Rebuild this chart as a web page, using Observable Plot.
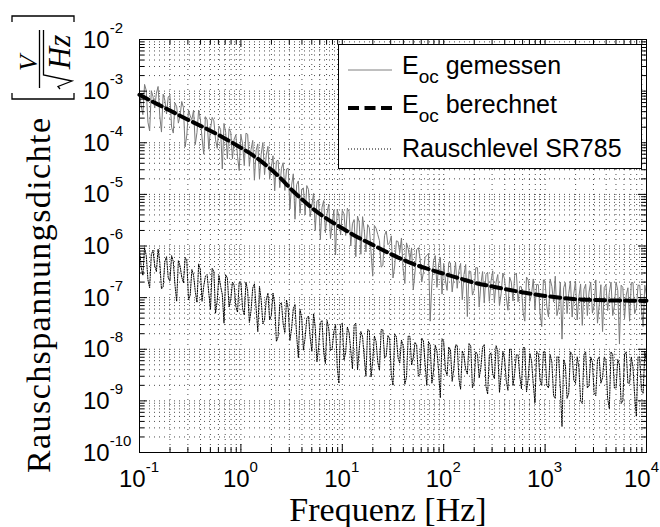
<!DOCTYPE html>
<html><head><meta charset="utf-8">
<script src="https://cdn.jsdelivr.net/npm/d3@7"></script>
<script src="https://cdn.jsdelivr.net/npm/@observablehq/plot@0.6"></script>
<style>body{margin:0;background:#fff}svg{display:block}</style>
</head><body><div id="chart"></div>
<script>
// ---- data ----
// sweep points (two interleaved sets of frequencies)
const freqA = [0.1,0.108,0.1166,0.1259,0.1359,0.1468,0.1585,0.1711,0.1848,0.1995,0.2154,0.2326,0.2512,0.2712,0.2929,0.3162,0.3415,0.3687,0.3981,0.4299,0.4642,0.5012,0.5412,0.5843,0.631,0.6813,0.7356,0.7943,0.8577,0.9261,
1,1.08,1.166,1.259,1.359,1.468,1.585,1.711,1.848,1.995,2.154,2.326,2.512,2.712,2.929,3.162,3.415,3.687,3.981,4.299,4.642,5.012,5.412,5.843,6.31,6.813,7.356,7.943,8.577,9.261,
10,10.8,11.66,12.59,13.59,14.68,15.85,17.11,18.48,19.95,21.54,23.26,25.12,27.12,29.29,31.62,34.15,36.87,39.81,42.99,46.42,50.12,54.12,58.43,63.1,68.13,73.56,79.43,85.77,92.61,
100,108,116.6,125.9,135.9,146.8,158.5,171.1,184.8,199.5,215.4,232.6,251.2,271.2,292.9,316.2,341.5,368.7,398.1,429.9,464.2,501.2,541.2,584.3,631,681.3,735.6,794.3,857.7,926.1,
1000,1080,1166,1259,1359,1468,1585,1711,1848,1995,2154,2326,2512,2712,2929,3162,3415,3687,3981,4299,4642,5012,5412,5843,6310,6813,7356,7943,8577,9261,10000];
const freqB = [0.1039,0.1122,0.1212,0.1308,0.1413,0.1525,0.1647,0.1778,0.192,0.2073,0.2239,0.2417,0.261,0.2818,0.3043,0.3286,0.3548,0.3831,0.4137,0.4467,0.4823,0.5208,0.5623,0.6072,0.6556,0.7079,0.7644,0.8254,0.8913,0.9624,
1.039,1.122,1.212,1.308,1.413,1.525,1.647,1.778,1.92,2.073,2.239,2.417,2.61,2.818,3.043,3.286,3.548,3.831,4.137,4.467,4.823,5.208,5.623,6.072,6.556,7.079,7.644,8.254,8.913,9.624,
10.39,11.22,12.12,13.08,14.13,15.25,16.47,17.78,19.2,20.73,22.39,24.17,26.1,28.18,30.43,32.86,35.48,38.31,41.37,44.67,48.23,52.08,56.23,60.72,65.56,70.79,76.44,82.54,89.13,96.24,
103.9,112.2,121.2,130.8,141.3,152.5,164.7,177.8,192,207.3,223.9,241.7,261,281.8,304.3,328.6,354.8,383.1,413.7,446.7,482.3,520.8,562.3,607.2,655.6,707.9,764.4,825.4,891.3,962.4,
1039,1122,1212,1308,1413,1525,1647,1778,1920,2073,2239,2417,2610,2818,3043,3286,3548,3831,4137,4467,4823,5208,5623,6072,6556,7079,7644,8254,8913,9624];

// E_oc gemessen [V/sqrt(Hz)] at freqA and freqB
const measuredA = [9.5e-4,3.5e-4,1.03e-3,1.69e-4,7.8e-4,9.1e-4,3.3e-4,8.7e-4,3.6e-4,8.3e-4,1.54e-4,5.0e-4,3.3e-4,4.8e-4,1.41e-4,3.3e-4,4.3e-4,1.57e-4,2.9e-4,6.0e-5,2.8e-4,1.82e-4,2.66e-4,7.8e-5,1.81e-4,2.36e-4,4.9e-5,1.6e-4,1.17e-4,5.4e-5,
1.41e-4,3.6e-5,1.46e-4,7.4e-5,1.88e-5,9.5e-5,6.0e-5,2.4e-5,8.5e-5,3.4e-5,1.17e-5,4.6e-5,3.2e-5,1.19e-5,3.2e-5,1.51e-5,3.3e-6,1.82e-5,1.26e-5,4.0e-6,1.24e-5,6.2e-6,2.0e-6,7.9e-6,5.6e-6,1.81e-6,6.5e-6,2.6e-6,6.7e-7,3.8e-6,
4.9e-6,1.6e-6,4.6e-6,2.7e-6,6.2e-7,2.9e-6,3.7e-6,7.7e-7,2.25e-6,2.6e-7,2.2e-6,1.27e-6,4.2e-7,1.95e-6,1.15e-6,2.4e-7,1.26e-6,7.4e-7,3.5e-7,1.15e-6,5.4e-7,1.41e-7,8.5e-7,5.8e-7,3.1e-7,6.6e-7,3.5e-8,5.2e-7,1.58e-7,6.0e-7,
4.6e-7,1.38e-7,4.7e-7,2.5e-7,1.52e-7,4.6e-7,2.8e-7,4.3e-8,3.2e-7,1.38e-7,3.8e-7,1.83e-7,7.9e-8,3.1e-7,2.1e-7,8.1e-8,2.8e-7,1.21e-7,2.3e-7,5.7e-8,2.0e-7,2.7e-7,8.3e-8,1.62e-7,3.5e-8,2.2e-7,1.18e-7,5.8e-8,1.78e-7,2.75e-8,
2.1e-7,4.2e-8,1.65e-7,2.6e-7,6.4e-8,1.57e-8,1.95e-7,1.21e-7,4.2e-8,2.1e-7,1.04e-7,2.9e-8,1.82e-7,1.28e-7,5.0e-8,2.2e-7,7.1e-8,2.2e-8,1.78e-7,1.26e-7,4.5e-8,2.0e-7,1.26e-8,1.58e-7,1.12e-7,3.5e-8,1.95e-7,6.2e-8,1.74e-7,2.75e-8,1.1e-7];
const measuredB = [5.2e-4,1.35e-3,2.5e-4,1.02e-3,4.7e-4,1.23e-3,1.61e-4,6.7e-4,7.7e-4,2.0e-4,5.9e-4,2.4e-4,6.3e-4,8.3e-5,4.3e-4,2.8e-4,9.2e-5,4.3e-4,1.24e-4,3.2e-4,7.5e-5,3.1e-4,1.14e-4,2.1e-4,3.1e-5,1.6e-4,1.87e-4,4.9e-5,1.42e-4,2.9e-5,
9.5e-5,1.53e-4,3.5e-5,1.11e-4,7.1e-5,2.0e-5,1.01e-4,5.7e-5,2.0e-5,5.6e-5,4.4e-5,1.35e-5,4.1e-5,3.1e-5,5.2e-6,2.5e-5,1.55e-5,4.3e-6,1.33e-5,1.48e-5,3.7e-6,1.04e-5,7.4e-6,1.33e-6,7.6e-6,4.3e-6,1.39e-6,5.0e-6,5.1e-6,1.63e-6,
4.2e-6,5.4e-6,1.0e-6,3.25e-6,3.8e-6,6.9e-7,2.0e-6,2.6e-6,7.7e-7,2.5e-6,1.66e-6,3.9e-7,1.6e-6,1.06e-6,1.57e-6,4.1e-7,1.22e-6,1.43e-6,1.88e-7,8.8e-7,9.2e-7,3.1e-7,9.3e-7,2.0e-7,6.0e-7,7.2e-7,1.91e-7,6.5e-7,4.4e-7,1.17e-7,
2.2e-7,4.8e-7,1.29e-7,4.9e-7,3.35e-7,9.1e-8,4.4e-7,3.3e-7,1.12e-7,3.8e-7,6.6e-8,3.2e-7,2.8e-7,8.5e-8,3.3e-7,2.0e-7,6.9e-8,3.0e-7,1.03e-7,2.5e-7,8.6e-8,3.0e-7,1.64e-7,5.1e-8,2.5e-7,8.5e-8,2.3e-7,1.8e-7,5.0e-8,2.2e-7,
6.7e-8,2.3e-7,8.2e-8,4.5e-8,2.0e-7,1.56e-7,4.9e-8,2.1e-7,1.18e-7,3.7e-8,1.84e-7,1.45e-7,4.5e-8,2.0e-7,7.1e-8,3.2e-8,1.78e-7,1.57e-7,5.6e-8,2.0e-7,6.9e-8,1.38e-7,1.74e-7,3.9e-8,1.55e-7,1.95e-7,4.9e-8,1.74e-7,6.2e-8,1.74e-7];

// Rauschlevel SR785 [V/sqrt(Hz)] at freqA and freqB
const noiseA = [8.9e-7,2.7e-7,6.5e-7,1.55e-7,8.3e-7,3.2e-7,4.8e-7,1.62e-7,6.2e-7,2.1e-7,5.0e-7,8.5e-8,4.1e-7,1.95e-7,5.2e-7,1.12e-7,2.7e-7,8.1e-8,3.5e-7,1.66e-7,2.8e-7,6.0e-8,3.2e-7,8.7e-8,1.66e-7,3.2e-8,2.4e-7,9.1e-8,1.74e-7,5.2e-8,
2.0e-7,4.6e-8,1.36e-7,5.6e-8,1.85e-7,2.2e-8,9.0e-8,3.7e-8,1.22e-7,4.5e-8,7.4e-8,1.73e-8,8.0e-8,2.1e-8,6.1e-8,2.5e-8,7.4e-8,6.9e-9,4.0e-8,1.67e-8,4.4e-8,9.1e-9,2.65e-8,1.1e-8,3.6e-8,5.3e-9,2.5e-8,1.02e-8,3.0e-8,2.2e-9,
3.2e-8,8.7e-9,2.1e-8,4.2e-9,3.2e-8,1.0e-8,1.74e-8,3.0e-9,2.3e-8,5.8e-9,1.41e-8,3.9e-9,2.4e-8,7.4e-9,1.62e-8,2.0e-9,1.74e-8,5.4e-9,1.17e-8,2.9e-9,1.78e-8,6.9e-9,1.2e-8,3.3e-9,1.45e-8,2.0e-9,1.23e-8,3.8e-9,9.3e-9,1.15e-9,
1.41e-8,3.1e-9,9.8e-9,4.3e-9,1.2e-8,1.68e-9,7.4e-9,3.3e-9,1.15e-8,2.3e-9,7.9e-9,4.4e-9,1.23e-8,1.36e-9,8.5e-9,2.7e-9,9.3e-9,3.3e-9,6.5e-9,1.6e-9,1.0e-8,3.5e-9,7.8e-9,1.72e-9,1.07e-8,2.7e-9,5.9e-9,9.2e-10,8.1e-9,2.0e-9,
8.9e-9,1.78e-9,5.6e-9,1.12e-9,7.1e-9,3.2e-10,5.0e-9,1.41e-9,7.9e-9,2.2e-9,4.5e-9,8.9e-10,8.9e-9,2.0e-9,5.6e-9,1.26e-9,7.1e-9,2.8e-9,6.3e-9,7.1e-10,7.9e-9,1.78e-9,5.0e-9,1.0e-9,8.9e-9,2.2e-9,4.5e-9,5.0e-10,7.1e-9,1.41e-9,5.6e-9];
const noiseB = [3.9e-7,9.3e-7,2.2e-7,6.8e-7,4.1e-7,8.7e-7,1.48e-7,5.0e-7,2.4e-7,6.5e-7,1.74e-7,5.2e-7,2.5e-7,6.0e-7,9.1e-8,3.5e-7,1.32e-7,4.5e-7,8.5e-8,2.6e-7,1.23e-7,3.7e-7,5.0e-8,2.7e-7,1.15e-7,2.75e-7,6.6e-8,2.0e-7,6.8e-8,2.0e-7,
6.1e-8,2.0e-7,3.3e-8,1.53e-7,6.3e-8,1.65e-7,3.1e-8,9.0e-8,3.7e-8,1.22e-7,1.42e-8,7.4e-8,3.1e-8,9.0e-8,1.48e-8,6.1e-8,1.8e-8,5.9e-8,9.7e-9,4.0e-8,1.67e-8,4.9e-8,5.7e-9,3.3e-8,8.7e-9,3.6e-8,9.4e-9,2.2e-8,4.6e-9,3.0e-8,
6.2e-9,2.7e-8,9.4e-9,2.9e-8,4.0e-9,2.2e-8,6.8e-9,2.4e-8,2.9e-9,1.8e-8,5.6e-9,2.4e-8,6.7e-9,1.84e-8,3.2e-9,1.97e-8,6.8e-9,1.5e-8,2.1e-9,1.8e-8,5.0e-9,1.36e-8,3.0e-9,1.64e-8,5.1e-9,1.4e-8,2.2e-9,1.19e-8,3.7e-9,1.6e-8,
4.0e-9,1.1e-8,2.4e-9,1.2e-8,2.7e-9,9.3e-9,4.1e-9,1.29e-8,1.8e-9,8.9e-9,2.8e-9,1.1e-8,1.93e-9,7.6e-9,3.35e-9,1.17e-8,1.46e-9,9.1e-9,2.5e-9,1.0e-8,1.97e-9,7.8e-9,3.05e-9,1.07e-8,1.5e-9,8.3e-9,2.1e-9,9.1e-9,2.5e-9,8.9e-9,
2.0e-9,7.9e-9,1.26e-9,7.1e-9,1.78e-9,6.3e-9,1.12e-9,8.9e-9,2.5e-9,7.1e-9,1.0e-9,7.9e-9,1.78e-9,7.1e-9,1.41e-9,6.3e-9,2.2e-9,7.1e-9,1.12e-9,8.9e-9,1.78e-9,6.3e-9,8.9e-10,7.9e-9,2.2e-9,7.1e-9,1.26e-9,7.1e-9,1.58e-9,8.9e-9];

// E_oc berechnet
const calcFreq = [0.1,0.15,0.2,0.3,0.45,0.7,1,1.3,1.6,2,2.5,3.2,4,5,7,10,14,20,30,50,70,100,150,200,300,500,700,1000,1500,2000,3000,5000,10000];
const calcValue = [8.5e-4,5.6e-4,4.2e-4,2.8e-4,1.9e-4,1.2e-4,8.0e-5,5.8e-5,4.3e-5,3.0e-5,2.0e-5,1.2e-5,8.0e-6,5.5e-6,3.4e-6,2.2e-6,1.5e-6,1.05e-6,7.0e-7,4.5e-7,3.6e-7,2.9e-7,2.3e-7,1.95e-7,1.65e-7,1.35e-7,1.2e-7,1.08e-7,9.8e-8,9.3e-8,9.0e-8,8.8e-8,8.7e-8];

const xTickValues = [0.1,1,10,100,1000,10000];
const xTickExp = ["-1","0","1","2","3","4"];
const yTickValues = [1e-10,1e-9,1e-8,1e-7,1e-6,1e-5,1e-4,1e-3,1e-2];
const yTickExp = ["-10","-9","-8","-7","-6","-5","-4","-3","-2"];
const tickBase = "10";
const legendMain = "E";
const legendSub = "oc";
const legendLabels = ["gemessen","berechnet","Rauschlevel SR785"];
const xTitle = "Frequenz [Hz]";
const yTitle = "Rauschspannungsdichte";
const yUnitNum = "V";
const yUnitDen = "Hz";

// ---- build ----
const byF = (a,b)=>a.f-b.f;
const meas = freqA.map((f,i)=>({f, v: measuredA[i]})).concat(freqB.map((f,i)=>({f, v: measuredB[i]}))).sort(byF);
const noise = freqA.map((f,i)=>({f, v: noiseA[i]})).concat(freqB.map((f,i)=>({f, v: noiseB[i]}))).sort(byF);
const calc = calcFreq.map((f,i)=>({f, v: calcValue[i]}));

const W=660, H=527, mL=139, mR=14, mT=39, mB=75;
const plotW = W-mL-mR, plotH = H-mT-mB;

function minorOf(majors){
  const out=[];
  for (let i=0;i<majors.length-1;i++) for (let m=2;m<=9;m++) out.push(+(majors[i]*m).toPrecision(3));
  return out;
}
const xMinor = minorOf(xTickValues);
const yMinor = minorOf(yTickValues);
const gridStyle = {stroke:"#000", strokeOpacity:0.7, strokeWidth:1, strokeDasharray:"1,4"};

const plot = Plot.plot({
  width: W, height: H,
  marginLeft: mL, marginRight: mR, marginTop: mT, marginBottom: mB,
  x: {type:"log", domain:[0.1,1e4], axis:null},
  y: {type:"log", domain:[1e-10,1e-2], axis:null},
  marks: [
    Plot.ruleX(xMinor.concat(xTickValues), gridStyle),
    Plot.ruleY(yMinor.concat(yTickValues), gridStyle),
    Plot.line(noise, {x:"f", y:"v", stroke:"#000", strokeWidth:1, strokeDasharray:"1.2,1.3"}),
    Plot.line(meas, {x:"f", y:"v", stroke:"#7a7a7a", strokeWidth:1}),
    Plot.line(calc, {x:"f", y:"v", stroke:"#000", strokeWidth:4, strokeDasharray:"10,5", curve:"monotone-x"}),
    Plot.ruleX(xMinor, {stroke:"#000", insetTop: plotH-5}),
    Plot.ruleX(xMinor, {stroke:"#000", insetBottom: plotH-5}),
    Plot.ruleX(xTickValues, {stroke:"#000", insetTop: plotH-8}),
    Plot.ruleX(xTickValues, {stroke:"#000", insetBottom: plotH-8}),
    Plot.ruleY(yMinor, {stroke:"#000", insetRight: plotW-5}),
    Plot.ruleY(yMinor, {stroke:"#000", insetLeft: plotW-5}),
    Plot.ruleY(yTickValues, {stroke:"#000", insetRight: plotW-8}),
    Plot.ruleY(yTickValues, {stroke:"#000", insetLeft: plotW-8}),
    Plot.frame({stroke:"#000", strokeWidth:1})
  ]
});
document.getElementById("chart").append(plot);

const sx = plot.scale("x"), sy = plot.scale("y");
const svg = d3.select(plot);
const sans = "'Liberation Sans', Arial, sans-serif";
const serif = "'Liberation Serif', 'Times New Roman', serif";

// tick labels
const xl = svg.append("g").style("font-family", sans).style("fill","#000");
xTickValues.forEach((v,i)=>{
  const last = i === xTickValues.length-1;
  const t = xl.append("text").attr("x", last ? W-1 : sx.apply(v)).attr("y", 487)
    .attr("text-anchor", last ? "end" : "middle").style("font-size","24px");
  t.append("tspan").text(tickBase);
  t.append("tspan").attr("dy",-15).style("font-size","15px").text(xTickExp[i]);
});
const yl = svg.append("g").style("font-family", sans).style("fill","#000");
yTickValues.forEach((v,i)=>{
  const t = yl.append("text").attr("x", 83).attr("y", sy.apply(v)+8.5)
    .attr("text-anchor","start").style("font-size","24px");
  t.append("tspan").text(tickBase);
  t.append("tspan").attr("dy",-15).style("font-size","15px").text(yTickExp[i]);
});

// x title
svg.append("text").attr("x",388).attr("y",521).attr("text-anchor","middle")
  .style("font-family",serif).style("font-size","34px").style("fill","#000").text(xTitle);

// y title (rotated), with [V / sqrt(Hz)]
const yt = svg.append("g").attr("transform","translate(50,473) rotate(-90)").style("fill","#000");
yt.append("text").attr("x",0).attr("y",0).attr("text-anchor","start")
  .attr("textLength",355).attr("lengthAdjust","spacing")
  .style("font-family",serif).style("font-size","34px").text(yTitle);
function ink(sel){ return sel.attr("fill","none").attr("stroke","#000").attr("stroke-width",1.3); }
ink(yt.append("path").attr("d","M380,-38H374V24H380"));
ink(yt.append("path").attr("d","M451,-38H457V24H451"));
ink(yt.append("path").attr("d","M385,-10.5H443"));
ink(yt.append("path").attr("d","M384,10L386.5,8L392,22L398,-6.5H443"));
yt.append("text").attr("x",410).attr("y",-13).attr("text-anchor","middle")
  .style("font-family",serif).style("font-style","italic").style("font-size","26px").text(yUnitNum);
yt.append("text").attr("x",421).attr("y",20).attr("text-anchor","middle")
  .style("font-family",serif).style("font-style","italic").style("font-size","31px").text(yUnitDen);

// legend
const lg = svg.append("g");
lg.append("rect").attr("x",338.5).attr("y",44.5).attr("width",303).attr("height",124)
  .attr("fill","#fff").attr("stroke","#000").attr("stroke-width",1);
const rows = [
  {ly:70, by:74, stroke:"#808080", sw:1, dash:null, sub:true},
  {ly:108, by:113, stroke:"#000", sw:4, dash:"11,5.5", sub:true},
  {ly:149, by:157, stroke:"#000", sw:1, dash:"1,2", sub:false}
];
rows.forEach((r,i)=>{
  const l = lg.append("line").attr("x1",348).attr("x2",392).attr("y1",r.ly).attr("y2",r.ly)
    .attr("stroke",r.stroke).attr("stroke-width",r.sw);
  if (r.dash) l.attr("stroke-dasharray", r.dash);
  const t = lg.append("text").attr("x",402).attr("y",r.by).attr("text-anchor","start")
    .style("font-family",sans).style("font-size","25px").style("fill","#000");
  if (r.sub) {
    t.append("tspan").text(legendMain);
    t.append("tspan").attr("dy",9).style("font-size","19px").text(legendSub);
    t.append("tspan").attr("dy",-9).text(" " + legendLabels[i]);
  } else {
    t.append("tspan").text(legendLabels[i]);
  }
});
</script>
</body></html>
